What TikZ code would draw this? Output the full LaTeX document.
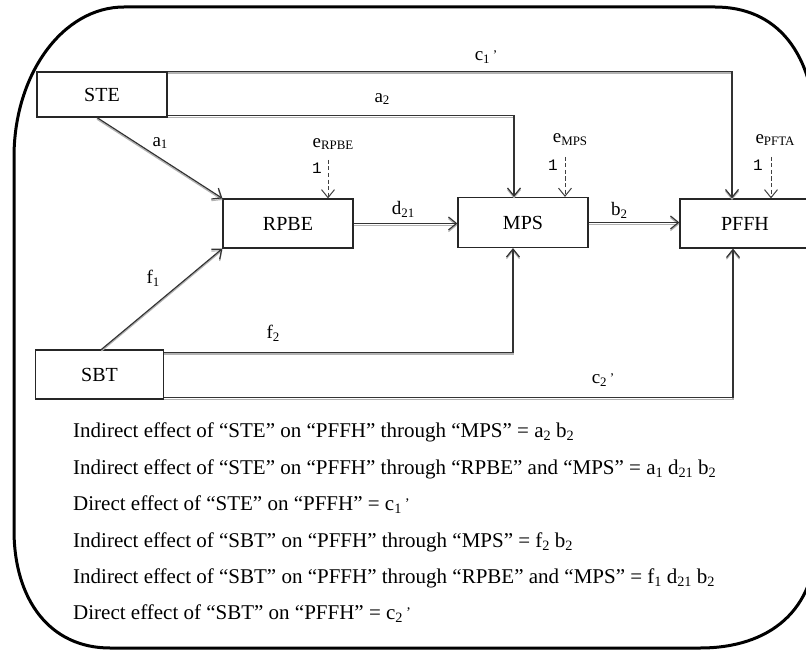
\documentclass[tikz,border=0pt]{standalone}
\usepackage{fontspec}
\usepackage{graphicx}
\setmainfont{Liberation Serif}
\newfontfamily\monofnt{Liberation Mono}
\usetikzlibrary{arrows.meta,calc}
\newcommand\lo[1]{\raisebox{-0.15em}{\scalebox{0.68}{#1}}}
\newcommand\pr{\,\raisebox{0.05em}{\scalebox{0.7}{’}}}
\begin{document}
\begin{tikzpicture}[x=1pt,y=-1pt,
  box/.style={draw=black!85,line width=1.2pt,rectangle,inner sep=0pt,
    minimum width=130pt,minimum height=47pt,font=\fontsize{20}{20}\selectfont},
  arr/.style={draw=black!80,line width=1.2pt,-{Straight Barb[length=8pt,width=13pt]},
    preaction={draw=black!30,line width=1.2pt,transform canvas={yshift=-1.6pt}}},
  darr/.style={draw=black!75,line width=1pt,dash pattern=on 4pt off 2.5pt,
    -{Straight Barb[length=8pt,width=13pt,line width=1pt]}},
  lab/.style={inner sep=0pt,font=\fontsize{19}{19}\selectfont},
  one/.style={inner sep=0pt,font=\monofnt\fontsize{16}{16}\selectfont},
  txt/.style={anchor=base west,inner sep=0pt,font=\fontsize{21}{21}\selectfont}]
\useasboundingbox (0,0) rectangle (806,650);
\clip (0,0) rectangle (806,650);
% outer frame
\draw[line width=3pt,black]
  (14,157) .. controls (14,74) and (63,7) .. (124,7)
  -- (715,7) .. controls (775,7) and (816,50) .. (816,140)
  -- (816,540) .. controls (816,610) and (770,648) .. (700,648)
  -- (110,648) .. controls (50,648) and (14,600) .. (14,530) -- cycle;
% boxes
\node[box,minimum height=45pt] (STE) at (102,94.5) {STE};
\node[box,minimum width=128pt,minimum height=49pt] (SBT) at (99.5,374.5) {SBT};
\node[box,minimum height=49pt] (RPBE) at (288,223.5) {RPBE};
\node[box,minimum height=50pt] (MPS) at (523,222.5) {MPS};
\node[box,minimum height=49pt] (PFFH) at (745,223.5) {PFFH};
% connectors
\draw[arr] ($(STE.south)+(-5,0)$) -- (RPBE.north west);
\draw[arr] ($(STE.south east)+(0,-2)$) -| ($(MPS.north)+(-9,0)$);
\draw[arr] (STE.north east) -| ($(PFFH.north)+(-13,0)$);
\draw[arr] (RPBE.east) -- (RPBE.east -| MPS.west);
\draw[arr] (MPS.east) -- (MPS.east -| PFFH.west);
\draw[arr] ($(SBT.north)+(2,0)$) -- (RPBE.south west);
\draw[arr] ($(SBT.north east)+(0,3)$) -| ($(MPS.south)+(-10,0)$);
\draw[arr] ($(SBT.south east)+(0,-2)$) -| ($(PFFH.south)+(-12,0)$);
% error terms
\coordinate (eR) at (328,160);
\coordinate (eM) at (565,157);
\coordinate (eP) at (771,157);
\draw[darr] (eR) -- (eR |- RPBE.north);
\draw[darr] (eM) -- (eM |- MPS.north);
\draw[darr] (eP) -- (eP |- PFFH.north);
\node[lab] (leR) at (333,144) {e\lo{RPBE}};
\node[lab] (leM) at (570,140) {e\lo{MPS}};
\node[lab] (leP) at (775,140) {e\lo{PFTA}};
\node[one] (oR) at (317,168) {1};
\node[one] (oM) at (553,165) {1};
\node[one] (oP) at (758,165) {1};
% path labels
\node[lab] (la1) at (160,143) {a\lo{1}};
\node[lab] (la2) at (382,99) {a\lo{2}};
\node[lab] (lc1) at (486,57) {c\lo{1}\pr};
\node[lab] (ld) at (403,209) {d\lo{21}};
\node[lab] (lb) at (619,210) {b\lo{2}};
\node[lab] (lf1) at (153,278) {f\lo{1}};
\node[lab] (lf2) at (273,333) {f\lo{2}};
\node[lab] (lc2) at (603,380) {c\lo{2}\pr};
% effects text
\node[txt] (t1) at (73,437) {Indirect effect of “STE” on “PFFH” through “MPS” = a\lo{2} b\lo{2}};
\node[txt] (t2) at (73,474) {Indirect effect of “STE” on “PFFH” through “RPBE” and “MPS” = a\lo{1} d\lo{21} b\lo{2}};
\node[txt] (t3) at (73,510) {Direct effect of “STE” on “PFFH” = c\lo{1}\pr};
\node[txt] (t4) at (73,547) {Indirect effect of “SBT” on “PFFH” through “MPS” = f\lo{2} b\lo{2}};
\node[txt] (t5) at (73,583) {Indirect effect of “SBT” on “PFFH” through “RPBE” and “MPS” = f\lo{1} d\lo{21} b\lo{2}};
\node[txt] (t6) at (73,619) {Direct effect of “SBT” on “PFFH” = c\lo{2}\pr};
\end{tikzpicture}
\end{document}
